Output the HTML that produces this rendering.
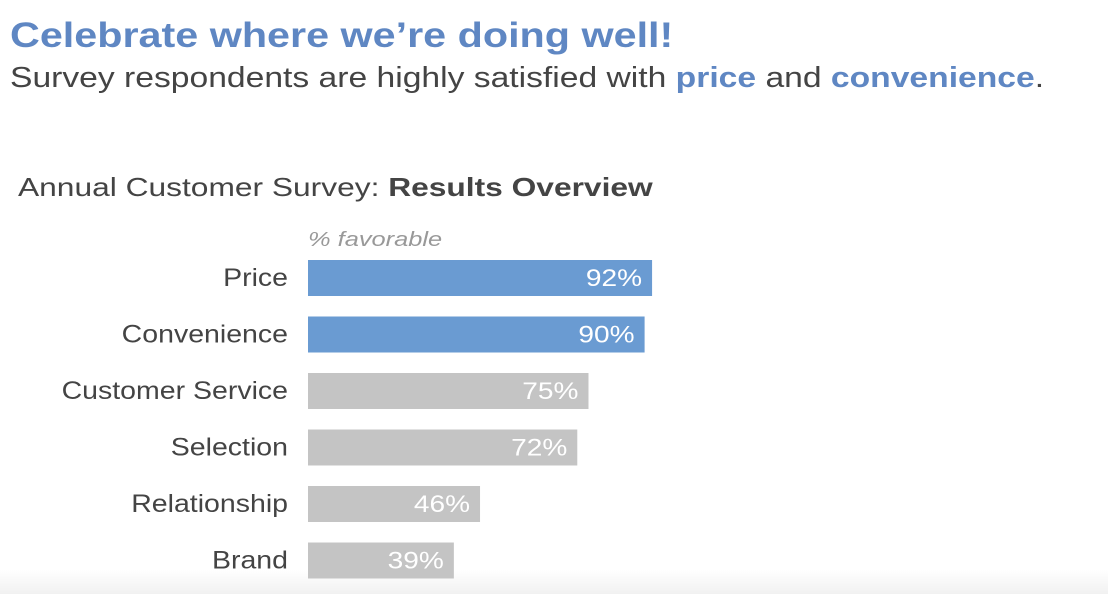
<!DOCTYPE html>
<html><head><meta charset="utf-8"><style>
html,body{margin:0;padding:0;background:#fff;}
body{width:1108px;height:594px;position:relative;overflow:hidden;font-family:"Liberation Sans",Arial,sans-serif;background:linear-gradient(#fff 0,#fff 570px,#f1f1f1 594px);}
.t{position:absolute;white-space:nowrap;transform-origin:0 0;}
</style></head><body>
<div class="t" style="left:10px;top:16px;font-size:35px;font-weight:bold;color:#5f87c3;transform:scaleX(1.18);">Celebrate where we’re doing well!</div>
<div class="t" style="left:10px;top:62px;font-size:29px;color:#444;transform:scaleX(1.16);">Survey respondents are highly satisfied with <b style="color:#5f87c3">price</b> and <b style="color:#5f87c3">convenience</b>.</div>
<div class="t" style="left:18px;top:172px;font-size:26px;color:#444;transform:scaleX(1.22);">Annual Customer Survey: <b>Results Overview</b></div>
<svg id="chart" width="1108" height="594" style="position:absolute;left:0;top:0"></svg>
<script>
const categories=["Price","Convenience","Customer Service","Selection","Relationship","Brand"];
const values=[92,90,75,72,46,39];
const highlighted=[true,true,false,false,false,false];
const svg=document.getElementById('chart');
const NS="http://www.w3.org/2000/svg";
const x0=308,pxPer=3.74,y0=260,step=56.5,bh=36;
const xs=v=>v*pxPer;
const ys=i=>y0+i*step;
const ax=document.createElementNS(NS,'text');


ax.setAttribute('x',0);ax.setAttribute('y',0);ax.setAttribute('transform','translate('+x0+',246) scale(1.27,1)');ax.setAttribute('font-size','20');ax.setAttribute('font-style','italic');ax.setAttribute('fill','#999');ax.setAttribute('font-family','Liberation Sans, sans-serif');
ax.textContent='% favorable';svg.appendChild(ax);
categories.forEach((c,i)=>{
  const y=ys(i);
  const r=document.createElementNS(NS,'rect');
  
  
  r.setAttribute('x',x0);r.setAttribute('y',y);r.setAttribute('width',xs(values[i]));r.setAttribute('height',bh);
  r.setAttribute('fill',highlighted[i]?'#6a9bd2':'#c4c4c4');
  svg.appendChild(r);
  const l=document.createElementNS(NS,'text');
  
  
  l.setAttribute('x',0);l.setAttribute('y',0);l.setAttribute('transform','translate(288,'+(y+bh/2+8)+') scale(1.14,1)');l.setAttribute('text-anchor','end');l.setAttribute('font-size','25');l.setAttribute('fill','#444');l.setAttribute('font-family','Liberation Sans, sans-serif');
  l.textContent=c;svg.appendChild(l);
  const v=document.createElementNS(NS,'text');
  
  
  v.setAttribute('x',0);v.setAttribute('y',0);v.setAttribute('transform','translate('+(x0+xs(values[i])-10)+','+(y+bh/2+8)+') scale(1.17,1)');v.setAttribute('text-anchor','end');v.setAttribute('font-size','24');v.setAttribute('fill','#fff');v.setAttribute('font-family','Liberation Sans, sans-serif');
  v.textContent=values[i]+'%';svg.appendChild(v);
});
</script>
</body></html>
